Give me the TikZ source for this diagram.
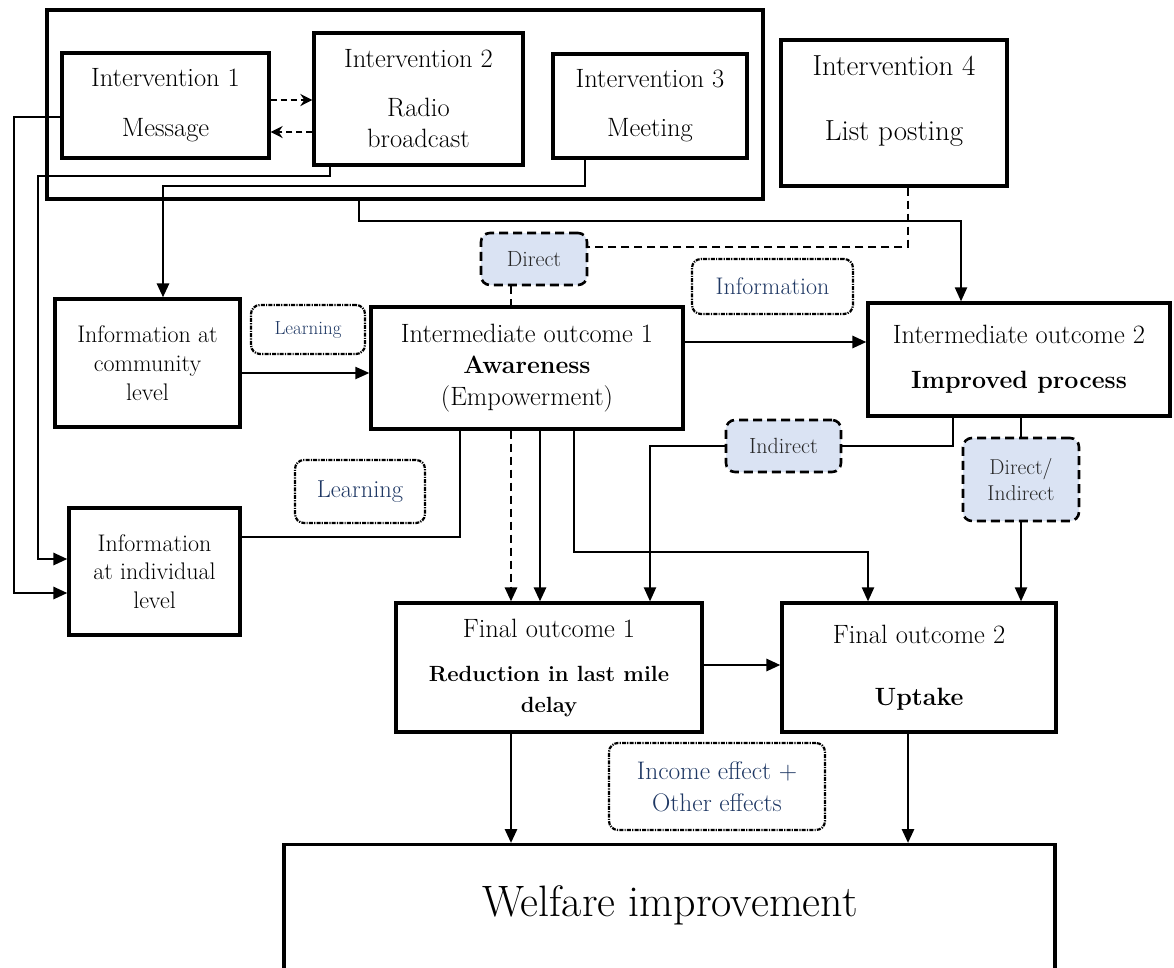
\documentclass[tikz,border=0pt]{standalone}
\usepackage{fontspec}
\usetikzlibrary{arrows.meta}
\definecolor{navy}{RGB}{31,56,100}
\definecolor{lblue}{RGB}{218,227,243}
\begin{document}
\begin{tikzpicture}[x=1pt,y=-1pt,
  box/.style={draw, line width=3.2pt, inner sep=0pt, align=center, font=\fontsize{26.5}{31}\selectfont},
  lab/.style={draw, rounded corners=9pt, inner sep=0pt, align=center},
  dashlab/.style={lab, fill=lblue, line width=2.6pt, dash pattern=on 9pt off 5pt, text=black!85},
  dotlab/.style={lab, line width=2.2pt, dash pattern=on 4pt off 1.2pt on 1.2pt off 1.2pt, text=navy},
  conn/.style={line width=2.8pt},
  thinconn/.style={line width=2.1pt},
  arr/.style={-{Triangle[length=14pt,width=12pt]}},
  dashconn/.style={line width=2.8pt, dash pattern=on 8pt off 5pt},
  sdash/.style={line width=2.3pt, dash pattern=on 6pt off 4pt},
  sarr/.style={-{Stealth[length=12pt,width=12pt]}}
]
\useasboundingbox (0,0) rectangle (1174,967);

% nodes
\node[box, minimum width=716pt, minimum height=189pt] (group) at (405,104.5) {};
\node[box, minimum width=207pt, minimum height=105pt] (int1) at (165.5,105.5) {Intervention 1\\[19pt]Message};
\node[box, minimum width=209pt, minimum height=132pt] (int2) at (418.5,99) {Intervention 2\\[18pt]Radio\\[0pt]broadcast};
\node[box, minimum width=194pt, minimum height=104pt] (int3) at (650,106) {Intervention 3\\[18pt]Meeting};
\node[box, minimum width=226pt, minimum height=146pt, font=\fontsize{29}{34}\selectfont] (int4) at (894,113) {Intervention 4\\[31pt]List posting\\[-4pt]\mbox{}};

\node[box, font=\fontsize{24}{29}\selectfont, minimum width=185pt, minimum height=128pt] (comm) at (147.5,363) {Information at\\community\\level};
\node[dotlab, minimum width=114pt, minimum height=49pt, font=\fontsize{19}{22}\selectfont] (learn1) at (308,329.5) {Learning};
\node[box, minimum width=312pt, minimum height=122pt, font=\fontsize{26.5}{31.5}\selectfont] (io1) at (527,368) {Intermediate outcome 1\\{\bfseries\fontsize{25}{31.5}\selectfont Awareness}\\(Empowerment)};
\node[dotlab, minimum width=161pt, minimum height=55pt, font=\fontsize{24}{28}\selectfont] (info) at (772.5,286.5) {Information};
\node[dashlab, minimum width=106pt, minimum height=52pt, font=\fontsize{22}{26}\selectfont] (direct) at (534,259) {Direct};
\node[box, minimum width=302pt, minimum height=113pt] (io2) at (1019,359.5) {Intermediate outcome 2\\[14pt]{\bfseries\fontsize{25}{31}\selectfont Improved process}};

\node[dotlab, minimum width=130pt, minimum height=63pt, font=\fontsize{24.5}{28}\selectfont] (learn2) at (360,491.5) {Learning};
\node[box, font=\fontsize{24}{28.5}\selectfont, minimum width=171pt, minimum height=127pt] (indiv) at (154.5,571.5) {Information\\at individual\\level};
\node[dashlab, minimum width=115pt, minimum height=52pt, font=\fontsize{22}{26}\selectfont] (indirect) at (783.5,446) {Indirect};
\node[dashlab, minimum width=116pt, minimum height=83pt, font=\fontsize{21.5}{26}\selectfont] (dirind) at (1021,479.5) {Direct/\\Indirect};

\node[box, minimum width=306pt, minimum height=129pt] (fo1) at (549,667.5) {Final outcome 1\\[13pt]{\bfseries\fontsize{22}{31}\selectfont Reduction in last mile}\\[0pt]{\bfseries\fontsize{22}{31}\selectfont delay}};
\node[box, minimum width=274pt, minimum height=129pt] (fo2) at (919,667.5) {Final outcome 2\\[31pt]{\bfseries\fontsize{25}{31}\selectfont Uptake}};
\node[dotlab, minimum width=216pt, minimum height=87pt, font=\fontsize{25.4}{32}\selectfont] (income) at (717,786.5) {Income effect +\\Other effects};
\node[box, minimum width=771pt, minimum height=170pt, anchor=north] (welfare) at (669.5,843) {};
\node[font=\fontsize{44}{52}\selectfont] (welfaretext) at (670,905) {Welfare improvement};

% connectors
\draw[sdash,sarr] (int1.east |- 0,100) -- (int2.west |- 0,100);
\draw[sdash,sarr] (int2.west |- 0,132) -- (int1.east |- 0,132);
\draw[conn,arr] (int1.west |- 0,117) -| (14,593) -- (indiv.west |- 0,593);
\draw[conn,arr] (int2.south -| 330,0) |- (38,176) -- (38,559) -- (indiv.west |- 0,559);
\draw[conn,arr] (int3.south -| 585,0) |- (163,186) -- (comm.north -| 163,0);
\draw[thinconn,arr] (group.south -| 359,0) |- (961,221) -- (io2.north -| 961,0);
\draw[dashconn] (int4.south -| 908,0) |- (direct.east |- 0,247);
\draw[dashconn] (direct.south -| 511,0) -- (io1.north -| 511,0);
\draw[thinconn,arr] (comm.east |- 0,373) -- (io1.west |- 0,373);
\draw[conn,arr] (io1.east |- 0,342) -- (io2.west |- 0,342);
\draw[conn] (indiv.east |- 0,537) -| (io1.south -| 460,0);
\draw[dashconn,arr] (io1.south -| 511,0) -- (fo1.north -| 511,0);
\draw[conn,arr] (io1.south -| 540,0) -- (fo1.north -| 540,0);
\draw[thinconn,arr] (io1.south -| 574,0) |- (868,552) -- (fo2.north -| 868,0);
\draw[thinconn] (io2.south -| 953,0) |- (indirect.east);
\draw[thinconn,arr] (indirect.west) -| (fo1.north -| 650,0);
\draw[thinconn] (io2.south -| dirind.north) -- (dirind.north);
\draw[thinconn,arr] (dirind.south) -- (fo2.north -| dirind.south);
\draw[conn,arr] (fo1.east |- 0,665) -- (fo2.west |- 0,665);
\draw[conn,arr] (fo1.south -| 511,0) -- (welfare.north -| 511,0);
\draw[conn,arr] (fo2.south -| 908,0) -- (welfare.north -| 908,0);
\end{tikzpicture}
\end{document}
